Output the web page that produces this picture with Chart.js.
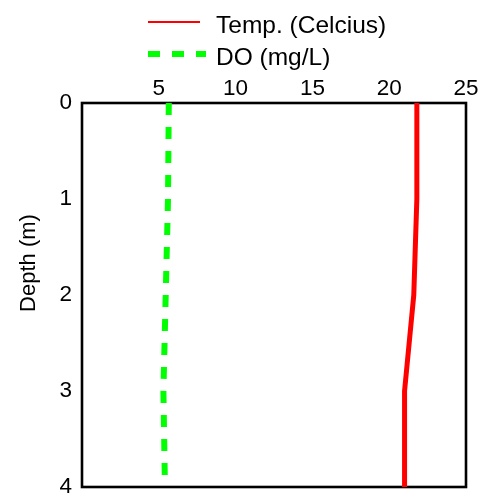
<!DOCTYPE html>
<html>
<head>
<meta charset="utf-8">
<script src="https://cdn.jsdelivr.net/npm/chart.js@4/dist/chart.umd.min.js"></script>
<style>
html,body{margin:0;padding:0;background:#fff;}
canvas{display:block;}
</style>
</head>
<body>
<canvas id="c" width="485" height="498"></canvas>
<script>
const depths = [0, 1, 2, 3, 4];
const tempValues = [21.8, 21.8, 21.6, 21.0, 21.0];
const doValues = [5.65, 5.6, 5.45, 5.3, 5.4];
const seriesLabels = ['Temp. (Celcius)', 'DO (mg/L)'];
const xTicks = [5, 10, 15, 20, 25];
const yTicks = [0, 1, 2, 3, 4];
const yTitle = 'Depth (m)';

const FONT = '"Liberation Sans", Arial, sans-serif';

const boxPlugin = {
  id: 'box',
  beforeDatasetsDraw(chart) {
    const {ctx, chartArea: a} = chart;
    ctx.save();
    ctx.strokeStyle = '#000';
    ctx.lineWidth = 2.6;
    ctx.strokeRect(a.left, a.top, a.right - a.left, a.bottom - a.top);
    ctx.restore();
  }
};

const textPlugin = {
  id: 'customText',
  afterDraw(chart) {
    const ctx = chart.ctx;
    const ds = chart.data.datasets;
    const lineY = [22, 54];
    const baseY = [33, 65];
    ctx.save();
    ds.forEach((d, i) => {
      const y = lineY[i];
      ctx.beginPath();
      ctx.strokeStyle = d.borderColor;
      ctx.lineWidth = i === 0 ? 2 : 6;
      ctx.setLineDash(d.borderDash || []);
      ctx.moveTo(148, y);
      ctx.lineTo(i === 0 ? 200 : 206, y);
      ctx.stroke();
      ctx.setLineDash([]);
      ctx.fillStyle = '#000';
      ctx.font = '24.5px ' + FONT;
      ctx.textBaseline = 'alphabetic';
      ctx.textAlign = 'left';
      ctx.fillText(d.label, 216, baseY[i]);
    });
    // y axis title
    ctx.translate(35, 263);
    ctx.rotate(-Math.PI / 2);
    ctx.font = '22px ' + FONT;
    ctx.textAlign = 'center';
    ctx.textBaseline = 'alphabetic';
    ctx.fillStyle = '#000';
    ctx.fillText(yTitle, 0, 0);
    ctx.restore();
  }
};

new Chart(document.getElementById('c'), {
  type: 'scatter',
  data: {
    datasets: [
      {
        label: seriesLabels[0],
        data: depths.map((d, i) => ({x: tempValues[i], y: d})),
        borderColor: '#ff0000',
        backgroundColor: '#ff0000',
        borderWidth: 5,
        showLine: true,
        pointRadius: 0,
        tension: 0
      },
      {
        label: seriesLabels[1],
        data: depths.map((d, i) => ({x: doValues[i], y: d})),
        borderColor: '#00ff00',
        backgroundColor: '#00ff00',
        borderWidth: 6,
        borderDash: [12, 12],
        showLine: true,
        pointRadius: 0,
        tension: 0
      }
    ]
  },
  options: {
    responsive: false,
    animation: false,
    devicePixelRatio: 1,
    layout: {padding: {top: 70, left: 0, right: 19, bottom: 11}},
    plugins: {
      legend: {display: false},
      tooltip: {enabled: false}
    },
    scales: {
      x: {
        type: 'linear',
        position: 'top',
        min: 0,
        max: 25,
        afterBuildTicks(scale) {
          scale.ticks = [0].concat(xTicks).map(v => ({value: v}));
        },
        ticks: {
          color: '#000',
          padding: 1,
          font: {size: 22.5, family: FONT},
          callback: v => (v === 0 ? '' : String(v))
        },
        grid: {display: false, drawTicks: false},
        border: {display: false},
        afterFit(scale) {
          scale.height = 33;
          scale.paddingLeft = 0;
          scale.paddingRight = 0;
        }
      },
      y: {
        type: 'linear',
        reverse: true,
        min: 0,
        max: 4,
        afterBuildTicks(scale) {
          scale.ticks = yTicks.map(v => ({value: v}));
        },
        ticks: {
          color: '#000',
          padding: 10,
          font: {size: 22.5, family: FONT}
        },
        title: {display: false},
        grid: {display: false, drawTicks: false},
        border: {display: false},
        afterFit(scale) {
          scale.width = 82;
          scale.paddingTop = 0;
          scale.paddingBottom = 0;
        }
      }
    }
  },
  plugins: [boxPlugin, textPlugin]
});
</script>
</body>
</html>
